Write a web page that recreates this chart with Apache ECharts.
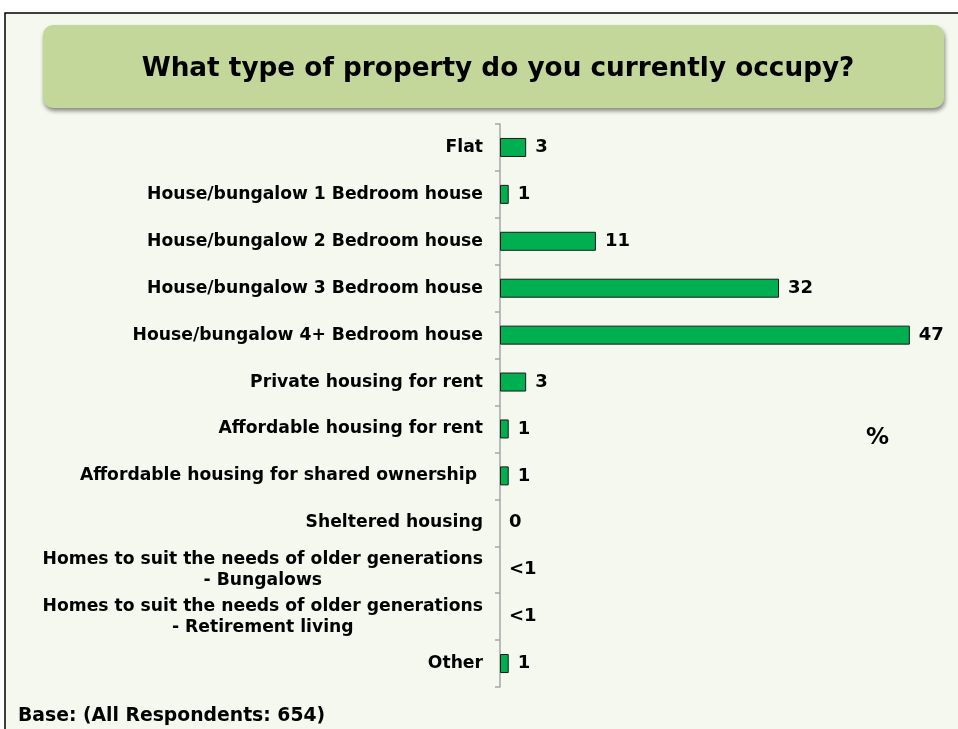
<!DOCTYPE html>
<html>
<head>
<meta charset="utf-8">
<script src="https://cdn.jsdelivr.net/npm/echarts@6/dist/echarts.min.js"></script>
<style>
  html, body { margin: 0; padding: 0; background: #ffffff; }
  #chart { width: 958px; height: 729px; }
</style>
</head>
<body>
<div id="chart"></div>
<script>
// categories top to bottom
const categories = [
  'Flat',
  'House/bungalow 1 Bedroom house',
  'House/bungalow 2 Bedroom house',
  'House/bungalow 3 Bedroom house',
  'House/bungalow 4+ Bedroom house',
  'Private housing for rent',
  'Affordable housing for rent',
  'Affordable housing for shared ownership ',
  'Sheltered housing',
  'Homes to suit the needs of older generations\n- Bungalows',
  'Homes to suit the needs of older generations\n- Retirement living',
  'Other'
];
const values = [3, 1, 11, 32, 47, 3, 1, 1, 0, 0, 0, 1];
const valueLabels = ['3', '1', '11', '32', '47', '3', '1', '1', '0', '<1', '<1', '1'];

const chart = echarts.init(document.getElementById('chart'), null, { renderer: 'canvas' });

const font = '"DejaVu Sans", Verdana, sans-serif';

// zero-length bars get no outline
const barData = values.map(function (v) {
  return v === 0 ? { value: v, itemStyle: { borderWidth: 0 } } : v;
});

const option = {
  backgroundColor: '#ffffff',
  animation: false,
  graphic: [
    {
      type: 'rect',
      shape: { x: 5, y: 13, width: 980, height: 740 },
      style: { fill: '#f5f8ee', stroke: '#000000', lineWidth: 1.5 },
      z: -10
    },
    {
      type: 'rect',
      shape: { x: 43, y: 25, width: 901, height: 83, r: 10 },
      style: {
        fill: '#c4d79b',
        shadowBlur: 4,
        shadowOffsetX: 1,
        shadowOffsetY: 3,
        shadowColor: 'rgba(0,0,0,0.45)'
      },
      z: -5
    },
    {
      type: 'text',
      left: 866,
      top: 427,
      style: { text: '%', font: 'bold 23px ' + font, fill: '#000' }
    },
    {
      type: 'text',
      left: 18,
      top: 707,
      style: { text: 'Base: (All Respondents: 654)', font: 'bold 18.8px ' + font, fill: '#000' }
    }
  ],
  title: {
    text: 'What type of property do you currently occupy?',
    left: 493,
    top: 51,
    textAlign: 'center',
    textStyle: {
      fontFamily: font,
      fontWeight: 'bold',
      fontSize: 26.3,
      color: '#000'
    }
  },
  grid: {
    left: 500,
    top: 124,
    width: 436,
    height: 563,
    containLabel: false
  },
  xAxis: {
    type: 'value',
    min: 0,
    max: 50,
    show: false
  },
  yAxis: {
    type: 'category',
    inverse: true,
    data: categories,
    axisLine: { show: true, lineStyle: { color: '#a6a6a6', width: 1.5 } },
    axisTick: { show: true, length: 5, lineStyle: { color: '#a6a6a6', width: 1.5 } },
    splitLine: { show: false },
    axisLabel: {
      margin: 17,
      interval: 0,
      formatter: function (v) {
        return v.split('\n').map(function (l) { return '{c|' + l + '}'; }).join('\n');
      },
      rich: {
        c: {
          align: 'center',
          fontFamily: font,
          fontWeight: 'bold',
          fontSize: 17.2,
          lineHeight: 21,
          color: '#000'
        }
      }
    }
  },
  series: [{
    type: 'bar',
    data: barData,
    barWidth: 19,
    itemStyle: { color: '#00b050', borderColor: '#1a1a1a', borderWidth: 1 },
    label: {
      show: true,
      position: 'right',
      distance: 9,
      formatter: function (p) { return valueLabels[p.dataIndex]; },
      fontFamily: font,
      fontWeight: 'bold',
      fontSize: 18,
      color: '#000'
    }
  }]
};

chart.setOption(option);
</script>
</body>
</html>
